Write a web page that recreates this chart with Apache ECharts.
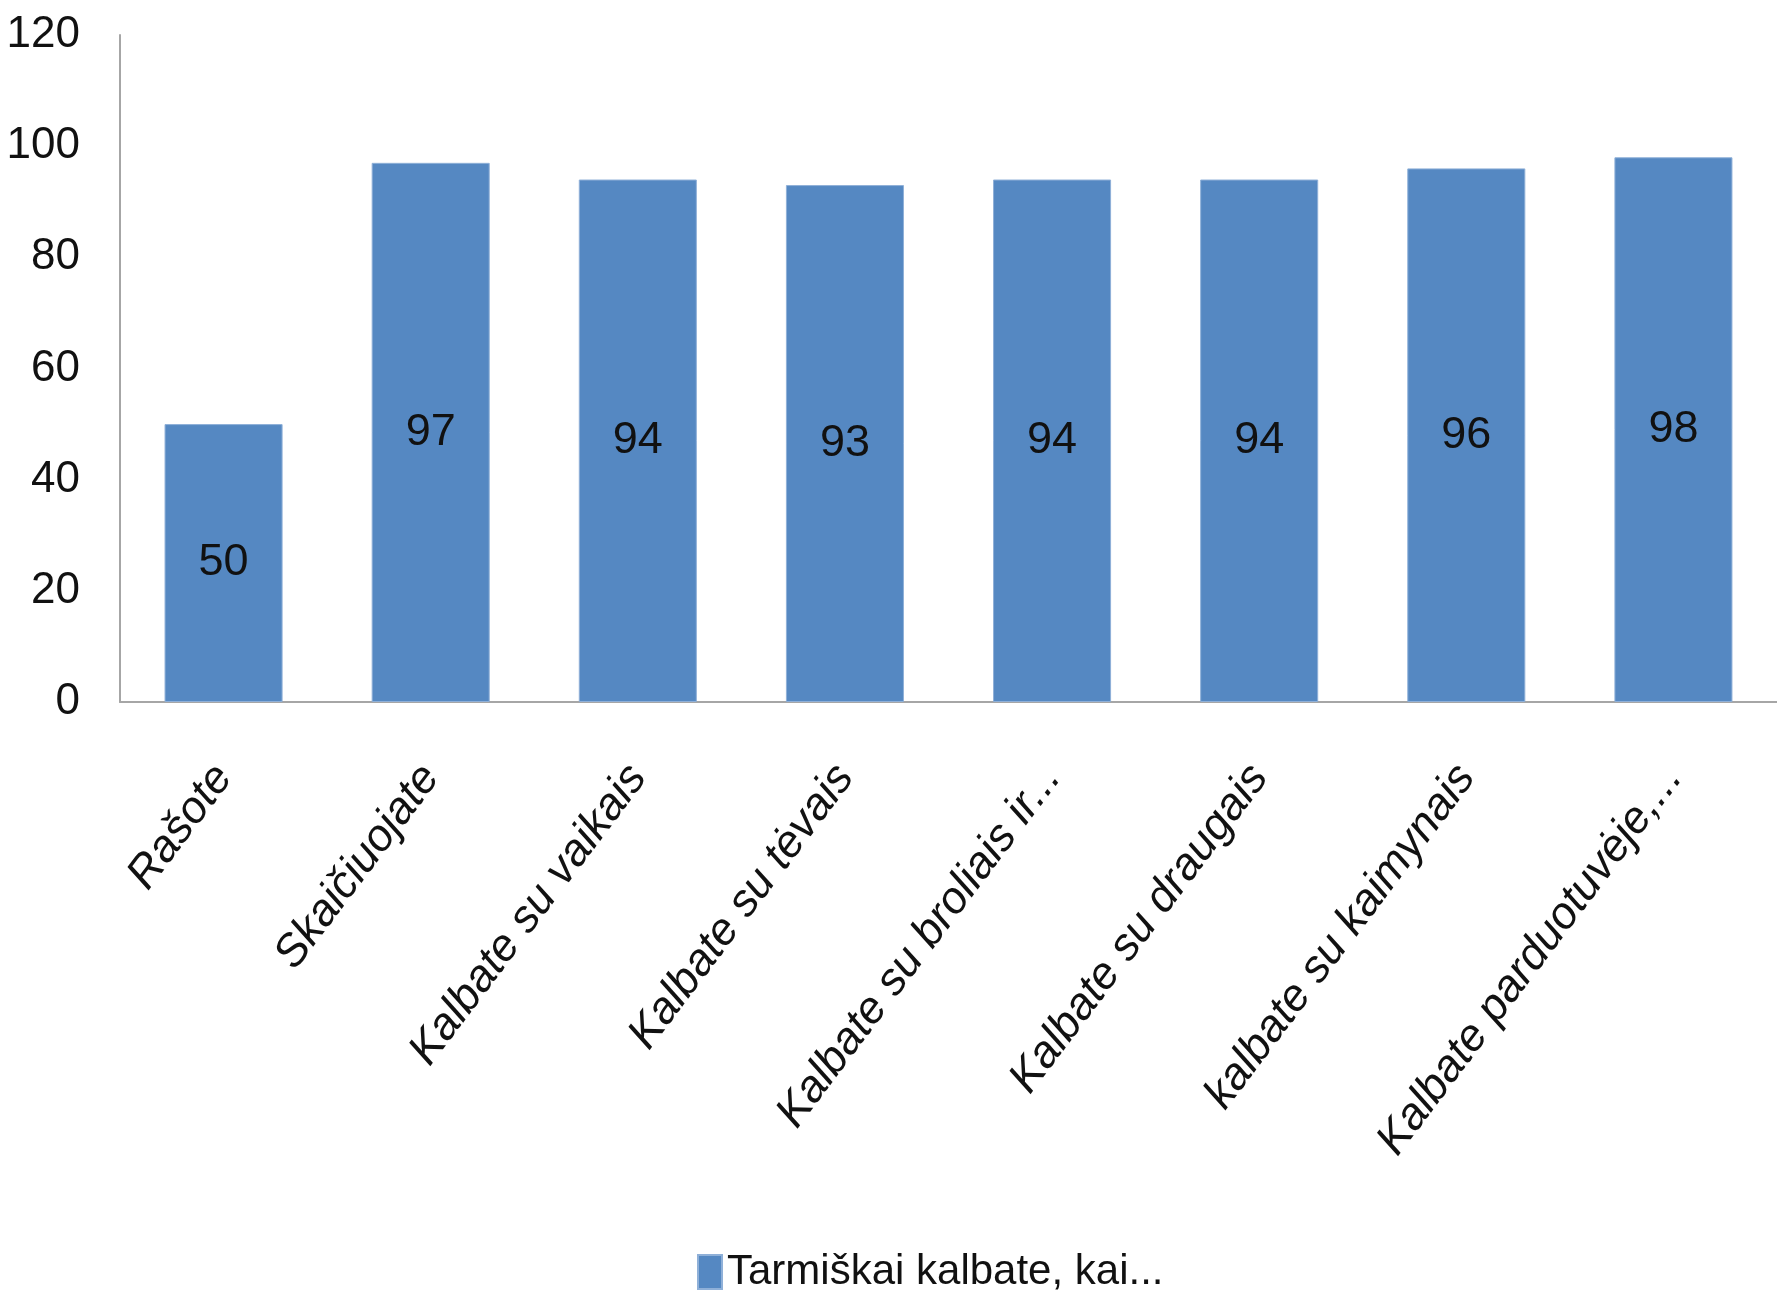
<!DOCTYPE html>
<html>
<head>
<meta charset="utf-8">
<script src="https://cdn.jsdelivr.net/npm/echarts@6/dist/echarts.min.js"></script>
<style>
html,body{margin:0;padding:0;background:#fff;}
#c{width:1777px;height:1292px;}
</style>
</head>
<body>
<div id="c"></div>
<script>
var categories = ["Rašote","Skaičiuojate","Kalbate su vaikais","Kalbate su tėvais","Kalbate su broliais ir...","Kalbate su draugais","kalbate su kaimynais","Kalbate parduotuvėje,..."];
var values = [50, 97, 94, 93, 94, 94, 96, 98];
var seriesName = "Tarmiškai kalbate, kai...";
var yTicks = [0, 20, 40, 60, 80, 100, 120];

var FONT = "'Liberation Sans Narrow', 'Liberation Sans', sans-serif";
var chart = echarts.init(document.getElementById('c'));
chart.setOption({
  animation: false,
  backgroundColor: '#ffffff',
  textStyle: {fontFamily: FONT},
  grid: {left: 120, right: 0, top: 35, bottom: 590, containLabel: false},
  legend: {
    data: [seriesName],
    left: 692, top: 1246,
    icon: 'rect', itemWidth: 24, itemHeight: 34, itemGap: 10,
    textStyle: {fontFamily: FONT, fontSize: 42, color: '#111'}
  },
  xAxis: {
    type: 'category',
    data: categories,
    axisLine: {lineStyle: {color: '#a6a6a6', width: 2}},
    axisTick: {show: false},
    axisLabel: {
      interval: 0, rotate: 53, margin: 68,
      fontFamily: FONT, fontSize: 45, fontStyle: 'italic', color: '#111'
    }
  },
  yAxis: {
    type: 'value',
    min: yTicks[0], max: yTicks[yTicks.length - 1], interval: 20,
    axisLine: {show: true, lineStyle: {color: '#a6a6a6', width: 2}},
    axisTick: {show: false},
    splitLine: {show: false},
    axisLabel: {margin: 40, fontFamily: FONT, fontSize: 44, color: '#111'}
  },
  series: [{
    name: seriesName,
    type: 'bar',
    data: values,
    barWidth: '57%',
    itemStyle: {color: '#5588c2', borderColor: '#8fb0d8', borderWidth: 1},
    label: {show: true, position: 'inside', fontFamily: FONT, fontSize: 45, color: '#111'}
  }]
});
</script>
</body>
</html>
